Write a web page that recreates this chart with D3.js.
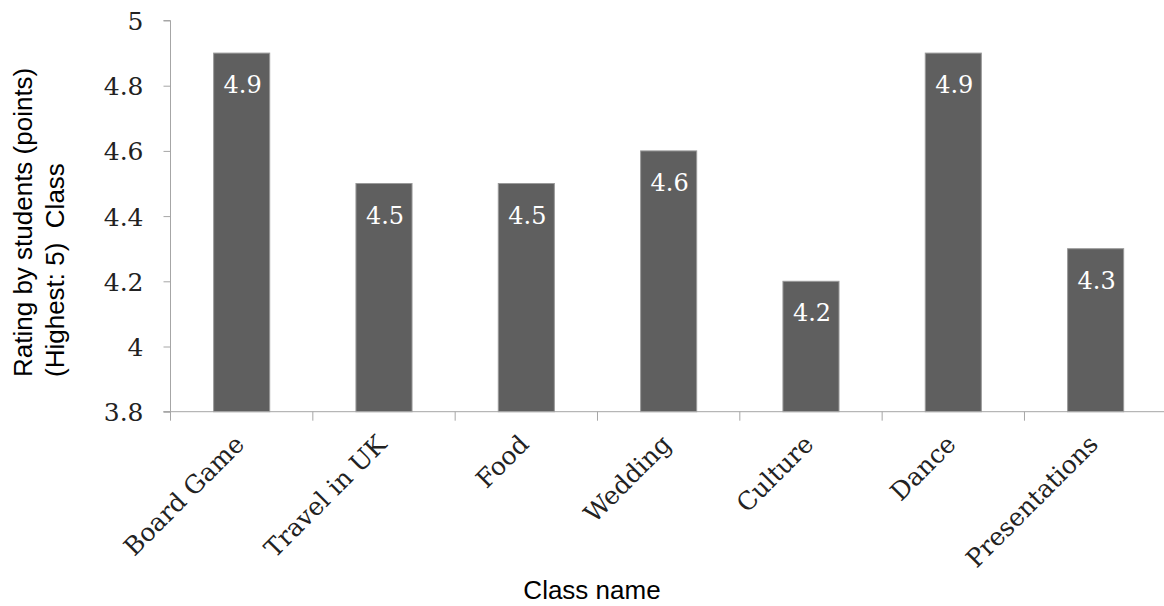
<!DOCTYPE html>
<html>
<head>
<meta charset="utf-8">
<script src="https://cdn.jsdelivr.net/npm/d3@7/dist/d3.min.js"></script>
<style>
  html, body { margin: 0; padding: 0; background: #fff; }
  svg { display: block; }
</style>
</head>
<body>
<svg id="chart" width="1164" height="606"></svg>
<script>
// Class ratings by students (out of 5)
const categories = ["Board Game", "Travel in UK", "Food", "Wedding", "Culture", "Dance", "Presentations"];
const ratings = [4.9, 4.5, 4.5, 4.6, 4.2, 4.9, 4.3];
const yTicks = [3.8, 4, 4.2, 4.4, 4.6, 4.8, 5];
const yTitleLines = ["Rating by students (points)", "(Highest: 5)  Class"];
const xTitle = "Class name";

const svg = d3.select("#chart");
const serif = "'DejaVu Serif', 'Liberation Serif', serif";
const sans = "'Liberation Sans', Arial, sans-serif";
const axisColor = "#a6a6a6";

const plot = { left: 170.5, right: 1166.8, top: 20.5, bottom: 411.7 };

const y = d3.scaleLinear().domain([3.8, 5]).range([plot.bottom, plot.top]);
const x = d3.scaleBand()
  .domain(categories)
  .range([plot.left, plot.right])
  .paddingInner(0.606)
  .paddingOuter(0.303);

// Bars
svg.append("g").selectAll("rect")
  .data(categories)
  .join("rect")
  .attr("x", d => x(d))
  .attr("width", x.bandwidth())
  .attr("y", (d, i) => y(ratings[i]))
  .attr("height", (d, i) => y(3.8) - y(ratings[i]))
  .attr("fill", "#5f5f5f")
  .attr("stroke", "#9a9a9a")
  .attr("stroke-width", 1);

// Value labels inside the bars
svg.append("g").selectAll("text")
  .data(categories)
  .join("text")
  .attr("x", d => x(d) + x.bandwidth() / 2 + 1)
  .attr("y", (d, i) => y(ratings[i]) + 40)
  .attr("text-anchor", "middle")
  .attr("font-family", serif)
  .attr("font-size", 24)
  .attr("fill", "#ffffff")
  .text((d, i) => d3.format("")(ratings[i]));

// Y axis
const yAxis = d3.axisLeft(y)
  .tickValues(yTicks)
  .tickSize(7)
  .tickPadding(20)
  .tickFormat(d => String(+d.toFixed(1)));

const gy = svg.append("g")
  .attr("transform", `translate(${plot.left},0)`)
  .call(yAxis);
gy.select(".domain").attr("stroke", axisColor).attr("d", `M-7,${plot.top}H0V${plot.bottom}H-7`);
gy.selectAll(".tick line").attr("stroke", axisColor);
gy.selectAll(".tick text")
  .attr("font-family", serif)
  .attr("font-size", 25)
  .attr("fill", "#222")
  .attr("dy", "0.36em");

// X axis: line with boundary ticks between categories
const step = x.step();
const boundaries = d3.range(categories.length + 1).map(i => plot.left + i * step);
const gx = svg.append("g");
gx.append("line")
  .attr("x1", plot.left - 7).attr("x2", 1164)
  .attr("y1", plot.bottom).attr("y2", plot.bottom)
  .attr("stroke", axisColor);
gx.selectAll("line.bt")
  .data(boundaries.slice(0, categories.length))
  .join("line")
  .attr("class", "bt")
  .attr("x1", d => d).attr("x2", d => d)
  .attr("y1", plot.bottom).attr("y2", plot.bottom + 9)
  .attr("stroke", axisColor);

// Category labels, rotated 45 degrees
gx.selectAll("text")
  .data(categories)
  .join("text")
  .attr("transform", d => `translate(${x(d) + x.bandwidth() / 2 + 4},${plot.bottom + 34}) rotate(-45)`)
  .attr("text-anchor", "end")
  .attr("font-family", serif)
  .attr("font-size", 25)
  .attr("fill", "#222")
  .text(d => d);

// Axis titles
svg.append("text")
  .attr("x", 592)
  .attr("y", 599)
  .attr("text-anchor", "middle")
  .attr("font-family", sans)
  .attr("font-size", 26)
  .attr("fill", "#000")
  .text(xTitle);

svg.append("g").selectAll("text")
  .data(yTitleLines)
  .join("text")
  .attr("transform", (d, i) => `translate(${32 + i * 32},377) rotate(-90)`)
  .attr("text-anchor", "start")
  .attr("font-family", sans)
  .attr("font-size", 26)
  .attr("fill", "#000")
  .style("white-space", "pre")
  .text(d => d);
</script>
</body>
</html>
